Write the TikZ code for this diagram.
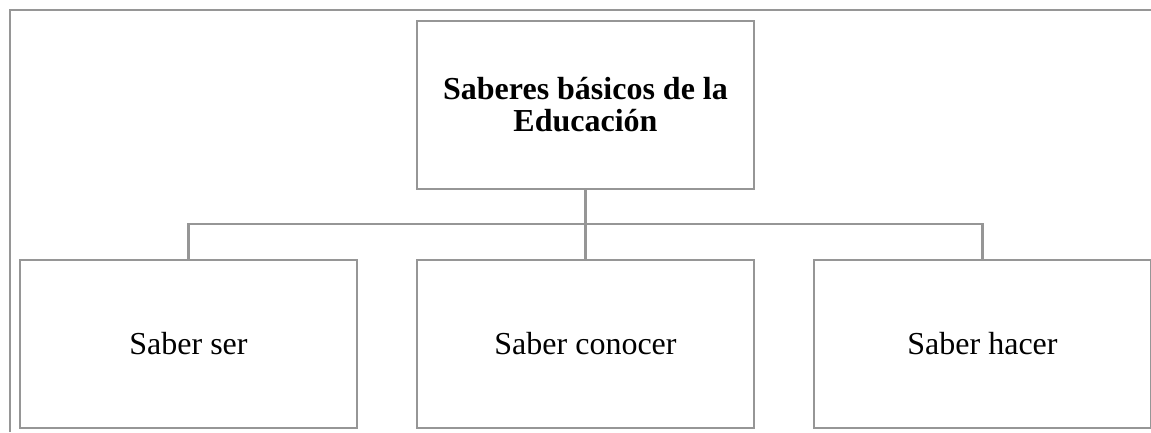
\documentclass[tikz,border=0pt]{standalone}
\usepackage{fontspec}
\setmainfont{Liberation Serif}
\definecolor{framegray}{RGB}{150,150,150}

\begin{document}
\begin{tikzpicture}[x=0.75pt, y=-0.75pt, line width=2.2pt, draw=framegray,
                    main box/.style={rectangle,draw=framegray,minimum width=252.75pt,minimum height=126pt,inner sep=0pt,font=\fontsize{24}{24}\selectfont},
                    head box/.style={main box,font=\fontsize{24}{24}\selectfont\bfseries,align=center}]

  \useasboundingbox (0,0) rectangle (1151,432);
  \draw[framegray] (10,432) -- (10,10) -- (1151,10);

  \node[head box] (root) at (585.5, 105) {Saberes básicos de la\\Educación};
  \node[main box] (ser) at (188.5, 344) {Saber ser};
  \node[main box] (conocer) at (585.5, 344) {Saber conocer};
  \node[main box] (hacer) at (982.5, 344) {Saber hacer};

  \coordinate (bus) at (585.5, 224);

  \draw[framegray] (root) -- (conocer);
  \draw[framegray] (ser) |- (bus) -| (hacer);

\end{tikzpicture}
\end{document}
